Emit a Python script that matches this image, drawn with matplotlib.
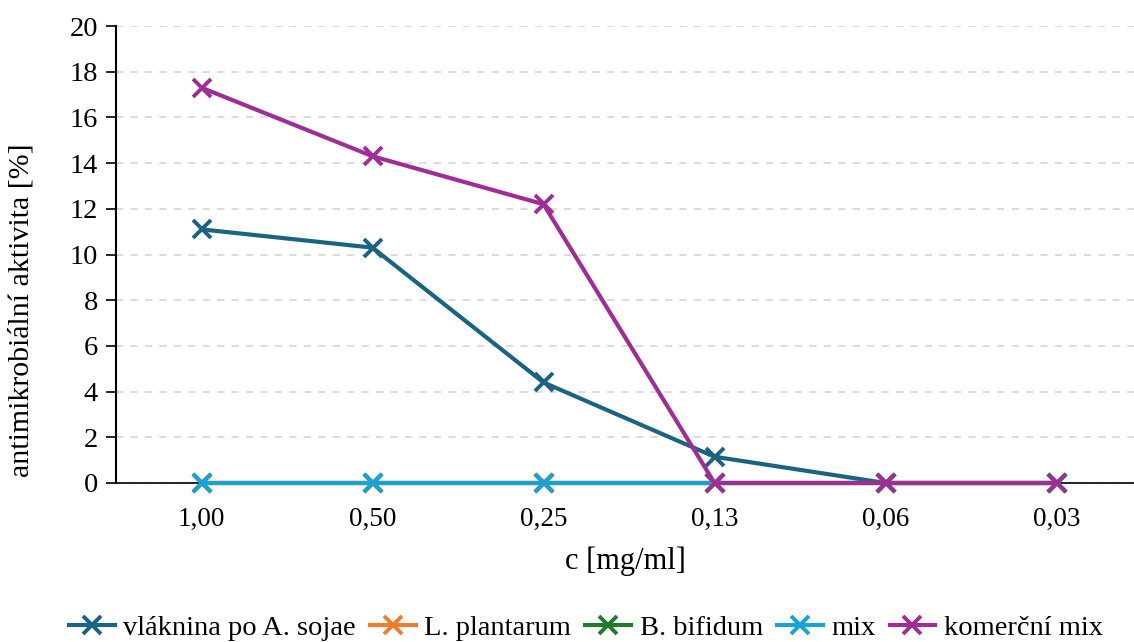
import matplotlib
matplotlib.use("Agg")
import matplotlib.pyplot as plt

plt.rcParams['font.family'] = ['Liberation Serif', 'DejaVu Serif']

categories = ["1,00", "0,50", "0,25", "0,13", "0,06", "0,03"]
series_names = ["vláknina po A. sojae", "L. plantarum", "B. bifidum", "mix", "komerční mix"]
vlaknina = [11.1, 10.3, 4.4, 1.15, 0, 0]
plantarum = [0, 0, 0, 0, 0, 0]
bifidum = [0, 0, 0, 0, 0, 0]
mix = [0, 0, 0, 0, 0, 0]
komercni = [17.3, 14.3, 12.2, 0, 0, 0]
colors = ["#1A6381", "#EE7D31", "#237A2E", "#1AA1D6", "#9E2E96"]
yticks = [0, 2, 4, 6, 8, 10, 12, 14, 16, 18, 20]

fig = plt.figure(figsize=(11.34, 6.42), dpi=100)
ax = fig.add_axes([116/1134, 1 - 483/642, 1026/1134, 457/642])

x = list(range(len(categories)))
data = [vlaknina, plantarum, bifidum, mix, komercni]
handles = []
for vals, name, c in zip(data, series_names, colors):
    ln, = ax.plot(x, vals, color=c, lw=3.0, marker='x', markersize=13,
                  markeredgewidth=2.8, label=name, clip_on=False, zorder=3)
    handles.append(ln)

ax.set_xlim(-0.5, 5.5)
ax.set_ylim(0, 20)
ax.set_yticks(yticks)
ax.set_xticks(x)
ax.set_xticklabels(categories)
ax.tick_params(axis='x', length=0, pad=17, labelsize=19.5)
ax.tick_params(axis='y', length=7, width=1.2, direction='out', pad=6, labelsize=20.5)
ax.yaxis.grid(True, linestyle=(0, (4, 4)), color='#D9D9D9', lw=1.3)
ax.set_axisbelow(True)
for s in ['top', 'right']:
    ax.spines[s].set_visible(False)
ax.spines['left'].set_linewidth(1.5)
ax.spines['bottom'].set_linewidth(1.2)
ax.spines['left'].set_zorder(4)

ax.set_xlabel("c [mg/ml]", fontsize=22)
ax.set_ylabel("antimikrobiální aktivita [%]", fontsize=21.5)
ax.xaxis.set_label_coords((625 - 116) / 1026, -(561 - 483) / 457)
ax.yaxis.set_label_coords(-(116 - 22) / 1026, (483 - 310) / 457)
ax.xaxis.label.set_va('center')
ax.yaxis.label.set_va('center')

fig.legend(handles=handles, loc='center', bbox_to_anchor=(586/1134, 1 - 628/642),
           ncol=5, frameon=False, fontsize=20.5, handlelength=1.6,
           handletextpad=0.3, columnspacing=0.5, borderpad=0)

fig.savefig("out.png", dpi=100)
